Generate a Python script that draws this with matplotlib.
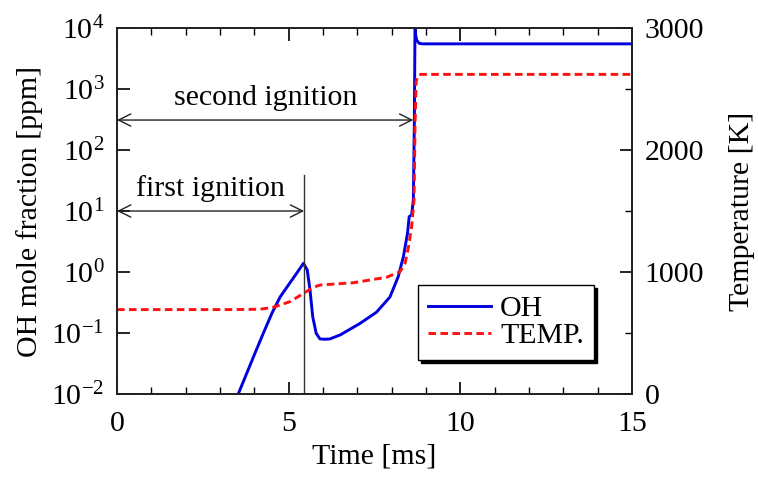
import matplotlib
matplotlib.use("Agg")
import matplotlib.pyplot as plt
from matplotlib.ticker import MultipleLocator, LogLocator, NullLocator

plt.rcParams['font.family'] = ['Liberation Serif', 'DejaVu Serif']
plt.rcParams['mathtext.fontset'] = 'custom'
plt.rcParams['mathtext.rm'] = 'Liberation Serif'
plt.rcParams['mathtext.it'] = 'Liberation Serif:italic'
plt.rcParams['axes.unicode_minus'] = False

# OH mole fraction [ppm] vs time [ms]
oh_time = [3.53, 3.78, 4.02, 4.26, 4.51, 4.75, 4.99, 5.23, 5.43, 5.54, 5.62, 5.70,
           5.80, 5.91, 6.06, 6.20, 6.50, 7.08, 7.56, 7.95, 8.19, 8.34, 8.46, 8.51,
           8.58, 8.63, 8.66, 8.68, 8.70, 8.73, 8.80, 8.90, 15.0]
oh_ppm = [0.01, 0.022, 0.047, 0.099, 0.21, 0.39, 0.61, 0.95, 1.39, 1.08, 0.51, 0.185,
          0.099, 0.080, 0.079, 0.080, 0.093, 0.144, 0.22, 0.39, 0.84, 1.78, 4.3, 8.1,
          8.6, 15, 300, 12000, 7500, 6300, 5600, 5500, 5500]

# temperature [K] vs time [ms]
temp_time = [0.0, 3.29, 4.17, 4.55, 5.04, 5.43, 5.72, 5.91, 6.20, 6.88, 7.85, 8.24,
             8.39, 8.49, 8.58, 8.65, 8.68, 8.71, 8.76, 8.85, 15.0]
temp_k = [692, 692, 695, 711, 757, 825, 875, 893, 899, 912, 957, 1002,
          1071, 1207, 1371, 1590, 2200, 2560, 2610, 2620, 2620]

first_ignition = 5.45   # ms
second_ignition = 8.63  # ms

fs = 21.5

fig = plt.figure(figsize=(7.58, 4.78), dpi=100)
ax = fig.add_axes([0.1544, 0.1757, 0.6794, 0.7657])
ax2 = ax.twinx()

ax.plot(oh_time, oh_ppm, color='#0000e0', lw=2.1, label='OH')
ax2.plot(temp_time, temp_k, color='#ff1010', lw=2.1, linestyle=(0, (2.6, 1.5)), label='TEMP.')

ax.set_yscale('log')
ax.set_xlim(0, 15)
ax.set_ylim(1e-2, 1e4)
ax2.set_ylim(0, 3000)

# ignition markers
ax.plot([first_ignition, first_ignition], [1e-2, 39], color='#333333', lw=1.0)
ax.annotate('', xy=(0, 10), xytext=(first_ignition, 10),
            arrowprops=dict(arrowstyle='<->', color='#222222', lw=1.0,
                            mutation_scale=22, shrinkA=0, shrinkB=0))
ax.annotate('', xy=(0, 310), xytext=(second_ignition, 310),
            arrowprops=dict(arrowstyle='<->', color='#222222', lw=1.0,
                            mutation_scale=22, shrinkA=0, shrinkB=0))
ax.text(2.73, 17.7, 'first ignition', fontsize=fs, ha='center', va='baseline')
ax.text(4.33, 550, 'second ignition', fontsize=fs, ha='center', va='baseline')

ax.xaxis.set_major_locator(MultipleLocator(5))
ax.xaxis.set_minor_locator(MultipleLocator(1))
ax.yaxis.set_major_locator(LogLocator(base=10, numticks=10))
ax.yaxis.set_minor_locator(NullLocator())
ax2.yaxis.set_major_locator(MultipleLocator(1000))
ax2.yaxis.set_minor_locator(MultipleLocator(500))

ax.tick_params(axis='x', which='both', direction='in', top=True, labelsize=fs, pad=12)
ax.tick_params(axis='x', which='major', length=9, width=1.2)
ax.tick_params(axis='x', which='minor', length=5, width=1.0)
ax.tick_params(axis='y', which='major', direction='in', length=9, width=1.2, labelsize=fs, pad=9)
ax2.tick_params(axis='y', which='major', direction='in', length=9, width=1.2, labelsize=fs, pad=9)
ax2.tick_params(axis='y', which='minor', direction='in', length=5, width=1.0)

for a in (ax, ax2):
    for s in a.spines.values():
        s.set_linewidth(1.3)
        s.set_color('#222222')

ax.set_xlabel('Time [ms]', fontsize=fs, labelpad=5)
ax.set_ylabel('OH mole fraction [ppm]', fontsize=fs, labelpad=6)
ax2.set_ylabel('Temperature [K]', fontsize=fs, labelpad=18)

h1, l1 = ax.get_legend_handles_labels()
h2, l2 = ax2.get_legend_handles_labels()
leg = ax2.legend(h1 + h2, l1 + l2, loc='upper left', bbox_to_anchor=(0.5845, 0.2978),
                 fontsize=fs, frameon=True, fancybox=False, shadow={'color': 'black', 'alpha': 1},
                 edgecolor='black', framealpha=1, handlelength=2.1, handletextpad=0.3,
                 borderpad=0.35, labelspacing=0.0, borderaxespad=0)
leg.get_frame().set_linewidth(1.0)

fig.savefig('out.png', dpi=100)
